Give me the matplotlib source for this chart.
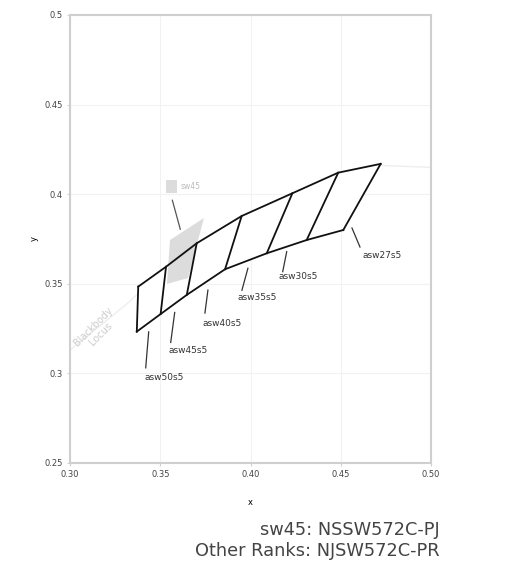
import numpy as np
import matplotlib
matplotlib.use('Agg')
from matplotlib import pyplot as plt
from matplotlib.patches import Rectangle

# bin corners (CIE x, y)
bin_labels = ['asw50s5', 'asw45s5', 'asw40s5', 'asw35s5', 'asw30s5', 'asw27s5']
top_x = [0.3378, 0.3532, 0.3702, 0.3951, 0.4232, 0.4486, 0.4721]
top_y = [0.3484, 0.3595, 0.3726, 0.3878, 0.4005, 0.4120, 0.4169]
bottom_x = [0.3370, 0.3502, 0.3647, 0.3859, 0.4090, 0.4311, 0.4514]
bottom_y = [0.3233, 0.3331, 0.3438, 0.3581, 0.3670, 0.3744, 0.3800]

# sw45 region
sw45_x = [0.3537, 0.3554, 0.3742, 0.3654]
sw45_y = [0.3499, 0.3744, 0.3867, 0.3532]

# blackbody locus (faint)
locus_x = [0.300, 0.333, 0.345, 0.380, 0.437, 0.472, 0.500]
locus_y = [0.313, 0.340, 0.352, 0.378, 0.405, 0.416, 0.415]

x_ticks = [0.30, 0.35, 0.40, 0.45, 0.50]
y_ticks = [0.25, 0.30, 0.35, 0.40, 0.45, 0.50]

# leader line start / end and text offsets in pixels from bottom-edge midpoint
label_offsets = [
    ((0, -9), (-3, -45), (15, -55)),
    ((1, -8), (-3, -38), (14, -46)),
    ((2, -8), (-1, -31), (16, -41)),
    ((2, -7), (-4, -29), (11, -36)),
    ((0, -5), (-4, -25), (11, -30)),
    ((27, 7), (35, -12), (57, -20)),
]

fig = plt.figure(figsize=(5.17, 5.62), dpi=100)
ax = fig.add_axes([0.1354, 0.1762, 0.6983, 0.7972])

ax.set_xlim(0.30, 0.50)
ax.set_ylim(0.25, 0.50)
ax.set_xticks(x_ticks)
ax.set_xticklabels(['%.2f' % v for v in x_ticks])
ax.set_yticks(y_ticks)
ax.set_yticklabels(['%g' % v for v in y_ticks])
ax.grid(True, color='#f2f2f2', lw=0.8)
ax.set_axisbelow(True)
for s in ax.spines.values():
    s.set_color('#cfcfcf')
    s.set_linewidth(1.5)
ax.tick_params(labelsize=6, colors='#d0d0d0', labelcolor='#444444', length=2, width=0.8, pad=3)
ax.set_xlabel('x', fontsize=6, labelpad=14)
ax.set_ylabel('y', fontsize=6, labelpad=4)

# locus
ax.plot(locus_x, locus_y, color='#eeeeee', lw=1.0, zorder=1)
ax.text(0.3150, 0.3240, 'Blackbody\nLocus', rotation=45, fontsize=7, color='#cccccc',
        ha='center', va='center', linespacing=1.1, zorder=2)

# white inside the bins to hide the locus
poly_x = top_x + bottom_x[::-1]
poly_y = top_y + bottom_y[::-1]
ax.fill(poly_x, poly_y, color='white', zorder=2, lw=0)

# sw45 region
ax.fill(sw45_x, sw45_y, color='#dcdcdc', lw=0, zorder=3)

# bin outlines
ax.plot(top_x, top_y, color='#111111', lw=1.3, zorder=4, solid_joinstyle='miter')
ax.plot(bottom_x, bottom_y, color='#111111', lw=1.3, zorder=4, solid_joinstyle='miter')
for tx, ty, bx, by in zip(top_x, top_y, bottom_x, bottom_y):
    ax.plot([bx, tx], [by, ty], color='#111111', lw=1.3, zorder=4)

# bin labels
inv = ax.transData.inverted()
for i, lab in enumerate(bin_labels):
    mx = (bottom_x[i] + bottom_x[i + 1]) / 2
    my = (bottom_y[i] + bottom_y[i + 1]) / 2
    (sx, sy), (ex, ey), (lx, ly) = label_offsets[i]
    p0 = ax.transData.transform((mx, my))
    a = inv.transform((p0[0] + sx, p0[1] + sy))
    b = inv.transform((p0[0] + ex, p0[1] + ey))
    ax.plot([a[0], b[0]], [a[1], b[1]], color='#333333', lw=0.9, zorder=4)
    ax.annotate(lab, xy=(mx, my), xytext=(lx, ly), textcoords='offset pixels',
                fontsize=6.5, color='#333333', ha='center', va='center', zorder=5)

# sw45 key
ax.add_patch(Rectangle((0.3533, 0.4007), 0.0061, 0.0072, color='#dcdcdc', lw=0, zorder=3))
ax.text(0.3610, 0.4045, 'sw45', fontsize=5.5, color='#bbbbbb', va='center', ha='left', zorder=5)
ax.plot([0.3567, 0.3611], [0.3966, 0.3804], color='#555555', lw=0.9, zorder=4)

fig.text(0.851, 0.057, 'sw45: NSSW572C-PJ', ha='right', va='center', fontsize=12.8, color='#444444')
fig.text(0.851, 0.0196, 'Other Ranks: NJSW572C-PR', ha='right', va='center', fontsize=12.8, color='#444444')

fig.savefig('out.png', dpi=100)
